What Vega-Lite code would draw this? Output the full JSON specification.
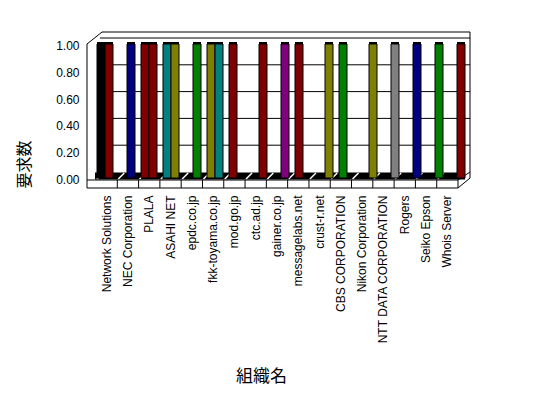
{
  "$schema": "https://vega.github.io/schema/vega-lite/v6.json",
  "width": 374,
  "height": 134,
  "autosize": "none",
  "padding": {"left": 94, "top": 44, "right": 80, "bottom": 220},
  "background": "white",
  "config": {
    "view": {"stroke": null},
    "axis": {"labelFont": "Liberation Sans", "labelColor": "#000", "titleColor": "#000", "titleFontWeight": "normal", "titleFont": "Noto Sans CJK JP", "grid": false}
  },
  "datasets": {
    "cats": [
      {"org": "Network Solutions"}, {"org": "NEC Corporation"}, {"org": "PLALA"}, {"org": "ASAHI NET"},
      {"org": "epdc.co.jp"}, {"org": "fkk-toyama.co.jp"}, {"org": "mod.go.jp"}, {"org": "ctc.ad.jp"},
      {"org": "gainer.co.jp"}, {"org": "messagelabs.net"}, {"org": "crust-r.net"}, {"org": "CBS CORPORATION"},
      {"org": "Nikon Corporation"}, {"org": "NTT DATA CORPORATION"}, {"org": "Rogers"}, {"org": "Seiko Epson"},
      {"org": "Whois Server"}
    ],
    "grid": [{"v": 0.2}, {"v": 0.4}, {"v": 0.6}, {"v": 0.8}, {"v": 1.0}],
    "one": [{"k": 1}],
    "bars": [
      {"org": "Network Solutions", "series": "1", "kind": "A", "value": 1},
      {"org": "Network Solutions", "series": "2", "kind": "B", "value": 1},
      {"org": "NEC Corporation", "series": "2", "kind": "C", "value": 1},
      {"org": "PLALA", "series": "1", "kind": "B", "value": 1},
      {"org": "PLALA", "series": "2", "kind": "B", "value": 1},
      {"org": "ASAHI NET", "series": "1", "kind": "D", "value": 1},
      {"org": "ASAHI NET", "series": "2", "kind": "E", "value": 1},
      {"org": "epdc.co.jp", "series": "2", "kind": "F", "value": 1},
      {"org": "fkk-toyama.co.jp", "series": "1", "kind": "E", "value": 1},
      {"org": "fkk-toyama.co.jp", "series": "2", "kind": "D", "value": 1},
      {"org": "mod.go.jp", "series": "1", "kind": "B", "value": 1},
      {"org": "ctc.ad.jp", "series": "2", "kind": "B", "value": 1},
      {"org": "gainer.co.jp", "series": "2", "kind": "G", "value": 1},
      {"org": "messagelabs.net", "series": "1", "kind": "B", "value": 1},
      {"org": "crust-r.net", "series": "2", "kind": "E", "value": 1},
      {"org": "CBS CORPORATION", "series": "1", "kind": "F", "value": 1},
      {"org": "Nikon Corporation", "series": "2", "kind": "E", "value": 1},
      {"org": "NTT DATA CORPORATION", "series": "2", "kind": "H", "value": 1},
      {"org": "Rogers", "series": "2", "kind": "C", "value": 1},
      {"org": "Seiko Epson", "series": "2", "kind": "F", "value": 1},
      {"org": "Whois Server", "series": "2", "kind": "B", "value": 1}
    ]
  },
  "layer": [
    {
      "layer": [
        {
          "data": {"name": "grid"},
          "mark": {"type": "rule", "color": "black", "strokeWidth": 1, "xOffset": 4, "x2Offset": 22.7, "yOffset": -6},
          "encoding": {
            "x": {"datum": "Network Solutions", "type": "nominal", "bandPosition": 0,
                  "scale": {"domain": ["Network Solutions", "NEC Corporation", "PLALA", "ASAHI NET", "epdc.co.jp", "fkk-toyama.co.jp", "mod.go.jp", "ctc.ad.jp", "gainer.co.jp", "messagelabs.net", "crust-r.net", "CBS CORPORATION", "Nikon Corporation", "NTT DATA CORPORATION", "Rogers", "Seiko Epson", "Whois Server"], "range": [2, 364], "paddingInner": 0, "paddingOuter": 0},
                  "axis": null},
            "x2": {"datum": "Whois Server"},
            "y": {"field": "v", "type": "quantitative", "scale": {"domain": [0, 1], "nice": false}, "axis": null}
          }
        },
        {
          "data": {"name": "one"},
          "mark": {"type": "rule", "color": "black", "strokeWidth": 1, "xOffset": 6, "x2Offset": 22.7, "yOffset": -12},
          "encoding": {
            "x": {"datum": "Network Solutions", "type": "nominal", "bandPosition": 0, "axis": null},
            "x2": {"datum": "Whois Server"},
            "y": {"datum": 1, "type": "quantitative", "axis": null}
          }
        },
        {
          "data": {"name": "one"},
          "mark": {"type": "rule", "color": "black", "strokeWidth": 1, "xOffset": 12, "yOffset": -12, "y2Offset": 0},
          "encoding": {
            "x": {"datum": "Whois Server", "type": "nominal", "bandPosition": 1, "axis": null},
            "y": {"datum": 1, "type": "quantitative", "axis": null},
            "y2": {"datum": 0}
          }
        },
        {
          "data": {"name": "one"},
          "mark": {"type": "rule", "color": "black", "strokeWidth": 7, "xOffset": -1, "x2Offset": 17.7, "yOffset": -2},
          "encoding": {
            "x": {"datum": "Network Solutions", "type": "nominal", "bandPosition": 0, "axis": null},
            "x2": {"datum": "Whois Server"},
            "y": {"datum": 0, "type": "quantitative", "axis": null}
          }
        },
        {
          "data": {"name": "cats"},
          "mark": {"type": "rule", "color": "white", "strokeWidth": 1.5, "xOffset": 1, "x2Offset": -3.65, "yOffset": 1, "y2Offset": -5},
          "encoding": {
            "x": {"field": "org", "type": "nominal", "bandPosition": 0, "sort": null,
                  "axis": {"title": "組織名", "labelAngle": -90, "labelPadding": 17, "ticks": false, "domain": false, "labelFontSize": 12, "titleFontSize": 17, "titleX": 167, "titleY": 198, "titleBaseline": "middle", "labelOverlap": false}},
            "x2": {"field": "org"},
            "y": {"datum": 0, "type": "quantitative", "axis": null},
            "y2": {"datum": 0}
          }
        },
        {
          "data": {"name": "one"},
          "mark": {"type": "rule", "color": "black", "strokeWidth": 1, "xOffset": -9, "x2Offset": 10.6, "yOffset": 2},
          "encoding": {
            "x": {"datum": "Network Solutions", "type": "nominal", "bandPosition": 0, "axis": null},
            "x2": {"datum": "Whois Server"},
            "y": {"datum": 0, "type": "quantitative", "axis": null}
          }
        },
        {
          "data": {"name": "one"},
          "mark": {"type": "rule", "color": "black", "strokeWidth": 1, "xOffset": -9, "x2Offset": 10.6, "yOffset": 10},
          "encoding": {
            "x": {"datum": "Network Solutions", "type": "nominal", "bandPosition": 0, "axis": null},
            "x2": {"datum": "Whois Server"},
            "y": {"datum": 0, "type": "quantitative", "axis": null}
          }
        },
        {
          "data": {"name": "cats"},
          "transform": [{"filter": "datum.org != 'Network Solutions'"}],
          "mark": {"type": "rule", "color": "black", "strokeWidth": 1, "yOffset": 2, "y2Offset": 10},
          "encoding": {
            "x": {"field": "org", "type": "nominal", "bandPosition": 0, "axis": null},
            "y": {"datum": 0, "type": "quantitative", "axis": null},
            "y2": {"datum": 0}
          }
        },
        {
          "data": {"name": "one"},
          "mark": {"type": "rule", "color": "black", "strokeWidth": 1, "yOffset": 2, "y2Offset": 10},
          "encoding": {
            "x": {"datum": "Whois Server", "type": "nominal", "bandPosition": 1, "axis": null},
            "y": {"datum": 0, "type": "quantitative", "axis": null},
            "y2": {"datum": 0}
          }
        },
        {
          "data": {"name": "one"},
          "mark": {"type": "rule", "color": "black", "strokeWidth": 1, "xOffset": -9, "y2Offset": 10},
          "encoding": {
            "x": {"datum": "Network Solutions", "type": "nominal", "bandPosition": 0, "axis": null},
            "y": {"datum": 1, "type": "quantitative", "axis": null},
            "y2": {"datum": 0}
          }
        },
        {
          "data": {"name": "one"},
          "mark": {"type": "rule", "color": "black", "strokeWidth": 1, "xOffset": -9, "x2Offset": -4.6, "y2Offset": -12},
          "encoding": {
            "x": {"datum": "Network Solutions", "type": "nominal", "bandPosition": 0, "axis": null},
            "x2": {"datum": "Network Solutions"},
            "y": {"datum": 1, "type": "quantitative", "axis": null},
            "y2": {"datum": 1}
          }
        },
        {
          "data": {"name": "one"},
          "mark": {"type": "rule", "color": "black", "strokeWidth": 1, "x2Offset": 22.7, "yOffset": 10, "y2Offset": 0},
          "encoding": {
            "x": {"datum": "Whois Server", "type": "nominal", "bandPosition": 1, "axis": null},
            "x2": {"datum": "Whois Server"},
            "y": {"datum": 0, "type": "quantitative", "axis": null},
            "y2": {"datum": 0}
          }
        },
        {
          "data": {"name": "one"},
          "mark": {"type": "rule", "color": "black", "strokeWidth": 1, "x2Offset": 22.7, "yOffset": 2, "y2Offset": -6},
          "encoding": {
            "x": {"datum": "Whois Server", "type": "nominal", "bandPosition": 1, "axis": null},
            "x2": {"datum": "Whois Server"},
            "y": {"datum": 0, "type": "quantitative", "axis": null},
            "y2": {"datum": 0}
          }
        }
      ],
      "resolve": {"axis": {"x": "independent", "y": "independent"}}
    },
    {
      "data": {"name": "bars"},
      "layer": [
        {
          "transform": [{"filter": "datum.series == '1'"}],
          "mark": {"type": "bar", "color": "black", "xOffset": -2, "yOffset": -2},
          "encoding": {
            "x": {"field": "org", "type": "nominal", "sort": ["Network Solutions", "NEC Corporation", "PLALA", "ASAHI NET", "epdc.co.jp", "fkk-toyama.co.jp", "mod.go.jp", "ctc.ad.jp", "gainer.co.jp", "messagelabs.net", "crust-r.net", "CBS CORPORATION", "Nikon Corporation", "NTT DATA CORPORATION", "Rogers", "Seiko Epson", "Whois Server"],
                  "scale": {"domain": ["Network Solutions", "NEC Corporation", "PLALA", "ASAHI NET", "epdc.co.jp", "fkk-toyama.co.jp", "mod.go.jp", "ctc.ad.jp", "gainer.co.jp", "messagelabs.net", "crust-r.net", "CBS CORPORATION", "Nikon Corporation", "NTT DATA CORPORATION", "Rogers", "Seiko Epson", "Whois Server"], "paddingInner": 0, "paddingOuter": 0}, "axis": null},
            "xOffset": {"field": "series", "type": "nominal", "scale": {"domain": ["1", "2"], "paddingInner": 0, "paddingOuter": 0.375}},
            "y": {"field": "value", "type": "quantitative", "scale": {"domain": [0, 1], "nice": false}, "axis": null}
          }
        },
        {
          "transform": [{"filter": "datum.series == '1'"}],
          "mark": {"type": "bar", "stroke": "black", "strokeWidth": 1},
          "encoding": {
            "x": {"field": "org", "type": "nominal", "axis": null},
            "xOffset": {"field": "series", "type": "nominal"},
            "y": {"field": "value", "type": "quantitative",
                  "axis": {"title": "要求数", "values": [0, 0.2, 0.4, 0.6, 0.8, 1], "format": ".2f", "labelPadding": 15, "ticks": false, "domain": false, "labelFontSize": 12, "titleFontSize": 16, "titleX": -70, "titleY": 120, "titleBaseline": "middle", "titleAngle": -90, "labelOffset": 1.5}},
            "color": {"field": "kind", "type": "nominal", "legend": null,
                      "scale": {"domain": ["A", "B", "C", "D", "E", "F", "G", "H"], "range": ["#000000", "#800000", "#000080", "#008080", "#808000", "#008000", "#800080", "#808080"]}}
          }
        },
        {
          "transform": [{"filter": "datum.series == '2'"}],
          "mark": {"type": "bar", "color": "black", "xOffset": -2, "yOffset": -2},
          "encoding": {
            "x": {"field": "org", "type": "nominal", "axis": null},
            "xOffset": {"field": "series", "type": "nominal"},
            "y": {"field": "value", "type": "quantitative", "axis": null}
          }
        },
        {
          "transform": [{"filter": "datum.series == '2'"}],
          "mark": {"type": "bar", "stroke": "black", "strokeWidth": 1},
          "encoding": {
            "x": {"field": "org", "type": "nominal", "axis": null},
            "xOffset": {"field": "series", "type": "nominal"},
            "y": {"field": "value", "type": "quantitative", "axis": null},
            "color": {"field": "kind", "type": "nominal", "legend": null}
          }
        }
      ],
      "resolve": {"axis": {"y": "independent"}}
    }
  ],
  "resolve": {"scale": {"x": "independent"}, "axis": {"x": "independent", "y": "independent"}}
}
